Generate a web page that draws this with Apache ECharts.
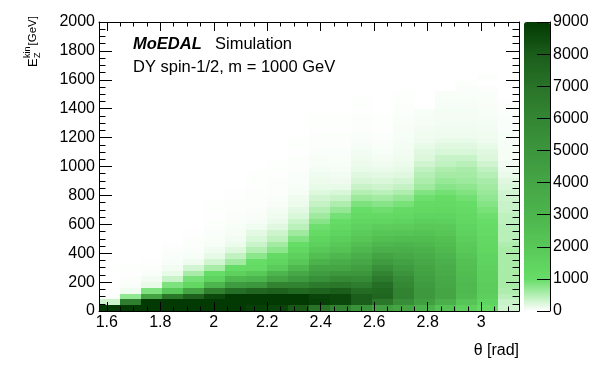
<!DOCTYPE html>
<html>
<head>
<meta charset="utf-8">
<script src="https://cdn.jsdelivr.net/npm/echarts@6/dist/echarts.min.js"></script>
<style>
html,body{margin:0;padding:0;background:#ffffff;}
#chart{width:596px;height:374px;}
</style>
</head>
<body>
<div id="chart"></div>
<script>
// ---------------- data ----------------
// theta binning: 20 bins from pi/2 to pi; energy bins of 40 GeV (row 0 = 0-40 GeV)
const thetaMin = Math.PI / 2;
const thetaMax = Math.PI;
const nThetaBins = 20;
const energyBinWidth = 40;
const energyMax = 2000;

// bin contents per theta column, listed from the lowest energy bin upward
const col00 = [9000, 330, 20];
const col01 = [9000, 6400, 710, 100, 33, 20, 15, 10];
const col02 = [9000, 9000, 4100, 850, 150, 80, 40, 25, 15];
const col03 = [9000, 9000, 6800, 2000, 850, 360, 150, 85, 50, 35, 25, 15];
const col04 = [9000, 9000, 7800, 4000, 1300, 900, 560, 300, 110, 50, 35, 25, 20, 15];
const col05 = [9000, 9000, 8600, 6300, 3000, 1500, 1000, 560, 300, 160, 90, 55, 40, 30, 25, 20, 15, 12, 10];
const col06 = [9000, 9000, 9000, 7200, 4700, 2800, 1600, 1050, 600, 400, 220, 120, 80, 65, 50, 40, 30, 25, 20, 15, 12];
const col07 = [8800, 9000, 9000, 7600, 5000, 3000, 2000, 1100, 1000, 750, 500, 350, 250, 180, 100, 60, 45, 35, 28, 22, 18, 15, 12, 10];
const col08 = [8700, 9000, 9000, 7800, 6200, 4000, 3000, 1800, 1400, 1100, 750, 600, 420, 320, 200, 130, 100, 70, 45, 35, 28, 22, 18, 15, 12, 10, 8];
const col09 = [8100, 9000, 9000, 7500, 6200, 4700, 3800, 2800, 2000, 1600, 1300, 1000, 820, 620, 450, 350, 250, 180, 120, 90, 65, 50, 40, 32, 26, 22, 18, 15, 12, 10];
const col10 = [7000, 8800, 8700, 7700, 6600, 5400, 4600, 4000, 3100, 2500, 2000, 1600, 1400, 1100, 950, 780, 620, 500, 380, 300, 220, 150, 120, 90, 70, 55, 45, 35, 28, 22, 18, 15, 12, 10];
const col11 = [6200, 8600, 8600, 7900, 6800, 5800, 4900, 4000, 3500, 2900, 2300, 2000, 1700, 1450, 1250, 1050, 900, 700, 520, 360, 255, 150, 110, 85, 65, 50, 40, 32, 26, 22, 18, 15, 12, 10];
const col12 = [5200, 7900, 7900, 7300, 6500, 5700, 5000, 4400, 3900, 3400, 2900, 2500, 2100, 1800, 1550, 1350, 1150, 1000, 850, 650, 500, 360, 260, 200, 150, 120, 100, 80, 60, 45, 35, 28, 22, 18, 15, 12, 10];
const col13 = [4400, 6800, 7600, 7500, 7200, 6600, 6100, 5400, 4700, 4100, 3400, 2900, 2500, 2100, 1750, 1400, 1150, 950, 780, 600, 450, 320, 240, 180, 130, 100, 75, 55, 42, 32, 24, 16, 12, 10];
const col14 = [4000, 5500, 6200, 6200, 5900, 5600, 5100, 4700, 4300, 3800, 3400, 3000, 2600, 2200, 1800, 1500, 1250, 1080, 880, 700, 520, 380, 290, 210, 160, 120, 100, 88, 70, 60, 55, 48, 42, 36, 28, 20, 14, 10];
const col15 = [3100, 4400, 4800, 4800, 4700, 4500, 4300, 4100, 3800, 3500, 3200, 2900, 2600, 2300, 2000, 1700, 1450, 1250, 1080, 950, 820, 620, 540, 480, 410, 310, 230, 200, 150, 110, 98, 85, 65, 60, 55];
const col16 = [2300, 3300, 4000, 4000, 3900, 3800, 3600, 3500, 3300, 3000, 2800, 2600, 2400, 2100, 1900, 1650, 1450, 1280, 1150, 1030, 920, 780, 680, 590, 520, 410, 360, 255, 200, 150, 110, 98, 85, 75, 70, 60, 50, 40];
const col17 = [1600, 2200, 2700, 2800, 2800, 2700, 2600, 2500, 2400, 2200, 2000, 1850, 1700, 1550, 1450, 1300, 1180, 1080, 1000, 930, 830, 730, 640, 590, 560, 460, 360, 255, 200, 150, 110, 98, 85, 75, 70, 60, 50, 40, 30, 20];
const col18 = [1100, 1450, 1650, 1750, 1750, 1650, 1650, 1550, 1500, 1450, 1350, 1300, 1200, 1100, 1050, 1000, 950, 880, 800, 720, 660, 610, 560, 480, 410, 310, 230, 200, 150, 110, 98, 85, 70, 60, 55, 45, 40, 30, 25, 0, 20];
const col19 = [310, 360, 460, 520, 570, 570, 570, 570, 570, 570, 570, 520, 460, 460, 460, 420, 420, 360, 360, 330, 300, 250, 200, 130, 110, 85, 65, 65, 58, 50, 50, 35, 30, 30, 25, 20, 15];

const columns = [col00, col01, col02, col03, col04, col05, col06, col07, col08, col09,
                 col10, col11, col12, col13, col14, col15, col16, col17, col18, col19];

// tick labels
const xMajorTicks = [1.6, 1.8, 2, 2.2, 2.4, 2.6, 2.8, 3];
const xMinorTicks = [1.6, 1.65, 1.7, 1.75, 1.8, 1.85, 1.9, 1.95, 2, 2.05, 2.1, 2.15, 2.2, 2.25, 2.3,
                     2.35, 2.4, 2.45, 2.5, 2.55, 2.6, 2.65, 2.7, 2.75, 2.8, 2.85, 2.9, 2.95, 3, 3.05, 3.1];
const yTickStep = 200;
const zMin = 0, zMax = 9000, zTickStep = 1000;
const palette = ['#ffffff', '#66dd66', '#58c858', '#4db54d', '#45a545', '#3c963c', '#338633', '#287328', '#1a5c1a', '#033a03'];

// ---------------- build cells ----------------
const dTheta = (thetaMax - thetaMin) / nThetaBins;
const cells = [];
columns.forEach(function (col, c) {
  col.forEach(function (v, j) {
    if (v > 0) {
      cells.push([thetaMin + c * dTheta, thetaMin + (c + 1) * dTheta,
                  j * energyBinWidth, (j + 1) * energyBinWidth, v]);
    }
  });
});

const FONT = '"Liberation Sans", Arial, Helvetica, sans-serif';
const BLACK = '#000000';
const plainNumber = function (v) { return String(v); };

const chart = echarts.init(document.getElementById('chart'), null, {renderer: 'canvas'});

const gridRect = {left: 99, top: 22, width: 420, height: 289};

function xAxisBase(extra) {
  return Object.assign({
    type: 'value', gridIndex: 0, min: thetaMin, max: thetaMax, z: 10,
    splitLine: {show: false},
    axisLine: {show: true, onZero: false, lineStyle: {color: BLACK, width: 1}},
    axisLabel: {show: false},
    axisPointer: {show: false}
  }, extra);
}

function textEl(x, y, text, size, extra) {
  return {
    type: 'text', x: x, y: y,
    style: Object.assign({
      text: text, fontFamily: FONT, fontSize: size, fill: BLACK,
      align: 'left', verticalAlign: 'middle', textAlign: 'left', textVerticalAlign: 'middle'
    }, extra || {})
  };
}

const option = {
  animation: false,
  backgroundColor: '#ffffff',
  textStyle: {fontFamily: FONT, color: BLACK},
  grid: [
    Object.assign({outerBoundsMode: 'none', containLabel: false, show: false}, gridRect),
    {left: 524, top: 22, width: 26, height: 289, outerBoundsMode: 'none', containLabel: false, show: false},
    Object.assign({outerBoundsMode: 'none', containLabel: false, show: false}, gridRect)
  ],
  xAxis: [
    xAxisBase({
      position: 'bottom',
      axisTick: {show: true, inside: true, length: 9, customValues: xMajorTicks, lineStyle: {color: BLACK}},
      axisLabel: {show: true, customValues: xMajorTicks, formatter: plainNumber, margin: 4, fontSize: 16, color: BLACK, fontFamily: FONT}
    }),
    xAxisBase({
      position: 'top',
      axisTick: {show: true, inside: true, length: 9, customValues: xMajorTicks, lineStyle: {color: BLACK}}
    }),
    {type: 'value', gridIndex: 1, min: 0, max: 1, show: false},
    xAxisBase({
      gridIndex: 2, position: 'bottom', axisLine: {show: false},
      axisTick: {show: true, inside: true, length: 4.5, customValues: xMinorTicks, lineStyle: {color: BLACK}}
    }),
    xAxisBase({
      gridIndex: 2, position: 'top', axisLine: {show: false},
      axisTick: {show: true, inside: true, length: 4.5, customValues: xMinorTicks, lineStyle: {color: BLACK}}
    })
  ],
  yAxis: [
    {
      type: 'value', gridIndex: 0, position: 'left', min: 0, max: energyMax, interval: yTickStep, z: 10,
      splitLine: {show: false},
      axisLine: {show: true, onZero: false, lineStyle: {color: BLACK, width: 1}},
      axisTick: {show: true, inside: true, length: 13, lineStyle: {color: BLACK}},
      minorTick: {show: true, splitNumber: 4, length: 6.5, lineStyle: {color: BLACK}},
      axisLabel: {show: true, formatter: plainNumber, margin: 4, fontSize: 16, color: BLACK, fontFamily: FONT}
    },
    {
      type: 'value', gridIndex: 0, position: 'right', min: 0, max: energyMax, interval: yTickStep, z: 10,
      splitLine: {show: false},
      axisLine: {show: true, onZero: false, lineStyle: {color: BLACK, width: 1}},
      axisTick: {show: true, inside: true, length: 13, lineStyle: {color: BLACK}},
      minorTick: {show: true, splitNumber: 4, length: 6.5, lineStyle: {color: BLACK}},
      axisLabel: {show: false}
    },
    {
      type: 'value', gridIndex: 1, position: 'right', min: zMin, max: zMax, interval: zTickStep, z: 10,
      splitLine: {show: false},
      axisLine: {show: true, onZero: false, lineStyle: {color: BLACK, width: 1}},
      axisTick: {show: true, inside: true, length: 13, lineStyle: {color: BLACK}},
      axisLabel: {show: true, formatter: plainNumber, margin: 3, fontSize: 16, color: BLACK, fontFamily: FONT}
    },
    {type: 'value', gridIndex: 2, min: 0, max: energyMax, show: false}
  ],
  visualMap: {
    type: 'continuous',
    min: zMin, max: zMax,
    dimension: 4,
    seriesIndex: 0,
    calculable: false,
    orient: 'vertical',
    left: 524, top: 22,
    itemWidth: 26, itemHeight: 289,
    padding: 0,
    text: null,
    z: 2,
    inRange: {color: palette}
  },
  series: [{
    type: 'custom',
    xAxisIndex: 0, yAxisIndex: 0,
    z: 2,
    encode: {x: [0, 1], y: [2, 3]},
    data: cells,
    silent: true,
    renderItem: function (params, api) {
      const p0 = api.coord([api.value(0), api.value(2)]);
      const p1 = api.coord([api.value(1), api.value(3)]);
      const x0 = Math.round(p0[0]), x1 = Math.round(p1[0]);
      const yb = Math.round(p0[1]), yt = Math.round(p1[1]);
      return {
        type: 'rect',
        shape: {x: x0, y: yt, width: x1 - x0, height: yb - yt},
        style: {fill: api.visual('color'), stroke: null}
      };
    }
  }],
  graphic: [
    textEl(133, 44, 'MoEDAL', 16.5, {fontWeight: 'bold', fontStyle: 'italic'}),
    textEl(215, 44, 'Simulation', 16.5),
    textEl(133, 67, 'DY spin-1/2, m = 1000 GeV', 16.5),
    textEl(519, 351, 'θ [rad]', 16, {align: 'right', textAlign: 'right'}),
    {
      type: 'group', x: 33, y: 67, rotation: Math.PI / 2,
      children: [
        textEl(0, 0, 'E', 13),
        textEl(9, -5.5, 'kin', 9),
        textEl(9, 4.5, 'Z', 9),
        textEl(21.5, 0, '[GeV]', 11.5)
      ]
    }
  ]
};

chart.setOption(option);
</script>
</body>
</html>
